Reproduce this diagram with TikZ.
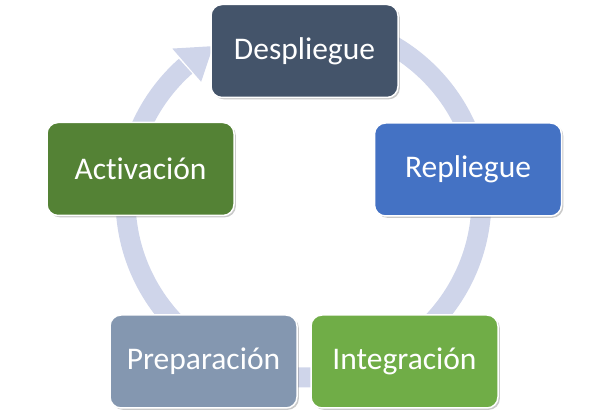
\documentclass[tikz,border=0pt]{standalone}
\usepackage{fontspec}
\setmainfont[Ligatures={NoCommon}]{Carlito}
\usetikzlibrary{shadows,calc}
\definecolor{cDes}{HTML}{44546A}
\definecolor{cRep}{HTML}{4472C4}
\definecolor{cInt}{HTML}{70AD47}
\definecolor{cPre}{HTML}{8497B0}
\definecolor{cAct}{HTML}{548235}
\definecolor{cRing}{HTML}{CFD5EA}
\tikzset{
  stagebox/.style={rectangle, rounded corners=11pt, minimum width=187pt, minimum height=93pt,
    draw=white, line width=1.5pt, text=white, font=\fontsize{31.5}{36}\selectfont,
    drop shadow={shadow xshift=1.8pt, shadow yshift=-1.8pt, opacity=.35, fill=black!60}},
  ring/.style={cRing, line width=20pt},
  ringhead/.style={fill=cRing, draw=none}
}
\begin{document}
\begin{tikzpicture}[x=1pt,y=1pt]
\useasboundingbox (0,0) rectangle (608,415);
\coordinate (ctr) at (303.5,215.5);
% ring
\draw[ring] ($(ctr)+(90:178)$) arc[start angle=90, end angle=-228.5, radius=178];
\fill[ringhead] ($(ctr)+(131:200)$) -- ($(ctr)+(120.5:178)$) -- ($(ctr)+(131:156)$) -- cycle;
% boxes
\node[stagebox, fill=cDes] (des) at (304.5,364) {Despliegue};
\node[stagebox, fill=cRep] (rep) at (468,245.5) {Repliegue};
\node[stagebox, fill=cInt] (int) at (404.5,53.5) {Integración};
\node[stagebox, fill=cPre] (pre) at (203.5,53.5) {Preparación};
\node[stagebox, fill=cAct] (act) at (140.5,246) {Activación};
\end{tikzpicture}
\end{document}
